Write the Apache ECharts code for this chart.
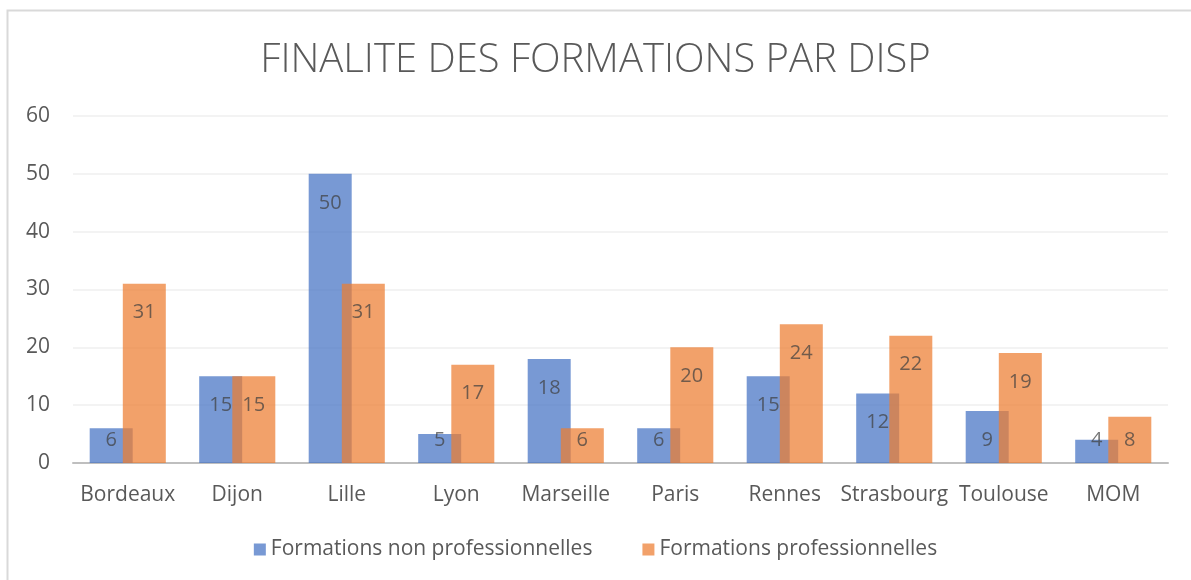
<!DOCTYPE html>
<html><head><meta charset="utf-8">
<script src="https://cdn.jsdelivr.net/npm/echarts@6/dist/echarts.min.js"></script>
<style>html,body{margin:0;padding:0;background:#fff}#c{width:1191px;height:580px}</style>
</head><body><div id="c"></div>
<script>
const categories = ['Bordeaux','Dijon','Lille','Lyon','Marseille','Paris','Rennes','Strasbourg','Toulouse','MOM'];
const nonPro = [6,15,50,5,18,6,15,12,9,4];
const pro = [31,15,31,17,6,20,24,22,19,8];
const seriesNames = ['Formations non professionnelles','Formations professionnelles'];
const titleText = 'FINALITE DES FORMATIONS PAR DISP';

const chart = echarts.init(document.getElementById('c'));
const FONT = '"Open Sans", sans-serif';
const baseLbl = {show:true, color:'#404040', fontSize:20, lineHeight:22, fontFamily:FONT};
function items(arr){
  return arr.map(v => v <= 8
    ? {value:v, label:Object.assign({}, baseLbl, {position:'insideBottom', distance:12})}
    : {value:v, label:Object.assign({}, baseLbl, {position:'insideTop', distance:18})});
}
chart.setOption({
  animation:false,
  graphic:[{type:'rect', shape:{x:7.5,y:10.5,width:1220,height:600}, style:{fill:'none', stroke:'#d9d9d9', lineWidth:2}, silent:true}],
  title:{text:titleText, left:'center', top:36, textStyle:{fontFamily:FONT, fontWeight:300, fontSize:40, color:'#595959'}},
  legend:{bottom:15, left:'center', itemWidth:12, itemHeight:12, itemGap:50, icon:'rect',
    textStyle:{fontFamily:FONT, fontSize:21, color:'#595959'}},
  grid:{left:73, right:23, top:116, bottom:117},
  xAxis:{type:'category', data:categories,
    axisLine:{lineStyle:{color:'#bfbfbf', width:2}}, axisTick:{show:false},
    axisLabel:{fontFamily:FONT, fontSize:21, color:'#595959', margin:22, interval:0}},
  yAxis:{type:'value', min:0, max:60, interval:10,
    axisLabel:{fontFamily:FONT, fontSize:21, color:'#595959', margin:23},
    splitLine:{lineStyle:{color:'#efefef', width:1.5}}, axisLine:{show:false}},
  series:[
    {name:seriesNames[0], type:'bar', data:items(nonPro), barWidth:43, barGap:'-23%',
     itemStyle:{color:'#4472C4', opacity:0.72}},
    {name:seriesNames[1], type:'bar', data:items(pro), barWidth:43,
     itemStyle:{color:'#ED7D31', opacity:0.72}}
  ]
});
</script></body></html>
